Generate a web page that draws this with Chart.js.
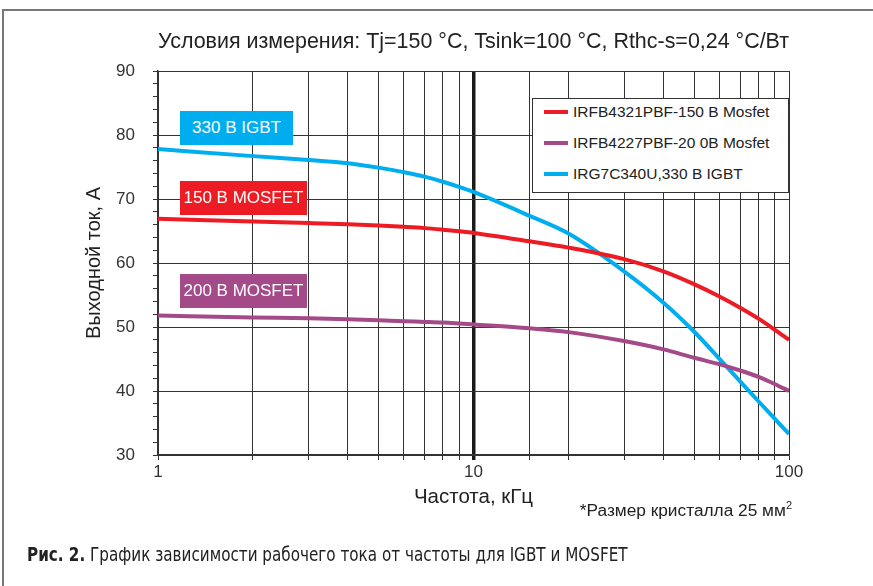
<!DOCTYPE html>
<html>
<head>
<meta charset="utf-8">
<script src="https://cdn.jsdelivr.net/npm/chart.js@4/dist/chart.umd.min.js"></script>
<style>
  body { margin: 0; background: #fff; }
  #wrap { position: relative; width: 873px; height: 586px; font-family: "Liberation Sans", Arial, sans-serif; color: #222; }
  #frame { position: absolute; left: 2px; top: 9px; right: 0; bottom: 0; border-top: 2px solid #777; border-left: 2px solid #777; }
  canvas { position: absolute; left: 0; top: 0; }
  .tag { position: absolute; left: 180px; height: 34px; line-height: 34px; color: #fff; font-size: 17px; text-align: center; }
  #legend { position: absolute; left: 532px; top: 98px; width: 255px; height: 93px; border: 1.5px solid #333; background: #fff; }
  .row { position: absolute; left: 11px; font-size: 15.5px; color: #222; white-space: nowrap; }
  .sw { display: inline-block; width: 24px; height: 4px; vertical-align: middle; margin-right: 5px; position: relative; top: -1px; }
  #note { position: absolute; right: 81px; top: 499px; font-size: 17.3px; color: #222; white-space: nowrap; }
  #cap { position: absolute; left: 27px; top: 542px; font-size: 20px; color: #222; font-family: "Liberation Sans Narrow", "DejaVu Sans Condensed", sans-serif; white-space: nowrap; transform: scaleX(0.845); transform-origin: left center; }
</style>
</head>
<body>
<div id="wrap">
  <div id="frame"></div>
  <canvas id="chart" width="873" height="586"></canvas>
  <div class="tag" style="top:111px;width:113px;background:#00aeef">330 В IGBT</div>
  <div class="tag" style="top:181px;width:127px;background:#ed1c24">150 В MOSFET</div>
  <div class="tag" style="top:274px;width:127px;background:#a54a89">200 В MOSFET</div>
  <div id="legend"></div>
  <div id="note">*Размер кристалла 25 мм<sup style="font-size:11px">2</sup></div>
  <div id="cap"><b>Рис. 2.</b> График зависимости рабочего тока от частоты для IGBT и MOSFET</div>
</div>
<script>
const freq = [1, 2, 3, 4, 5, 6, 7, 8, 9, 10, 15, 20, 30, 40, 50, 60, 70, 80, 90, 100];
const mosfet150 = [66.9, 66.5, 66.25, 66.05, 65.85, 65.65, 65.45, 65.2, 64.95, 64.7, 63.4, 62.4, 60.6, 58.7, 56.7, 54.8, 53.0, 51.3, 49.6, 48.0];
const mosfet200 = [51.8, 51.5, 51.35, 51.2, 51.05, 50.9, 50.8, 50.7, 50.55, 50.4, 49.8, 49.2, 47.8, 46.5, 45.2, 44.2, 43.2, 42.2, 41.1, 40.0];
const igbt330 = [77.8, 76.7, 76.1, 75.6, 74.9, 74.2, 73.5, 72.7, 71.9, 71.1, 67.4, 64.6, 58.7, 53.8, 49.3, 45.1, 41.5, 38.4, 35.7, 33.3];
const seriesNames = ['IRFB4321PBF-150 В Mosfet', 'IRFB4227PBF-20 0В Mosfet', 'IRG7C340U,330 В IGBT'];
const seriesColors = ['#ed1c24', '#a54a89', '#00aeef'];
const xLabels = [1, 10, 100];

const pts = arr => freq.map((f, i) => ({ x: f, y: arr[i] }));

// legend as html
const legend = document.getElementById('legend');
seriesNames.forEach((name, i) => {
  const row = document.createElement('div');
  row.className = 'row';
  row.style.top = (4 + i * 31) + 'px';
  row.innerHTML = '<span class="sw" style="background:' + seriesColors[i] + '"></span>' + name;
  legend.appendChild(row);
});

const tickFont = { family: 'Liberation Sans', size: 17 };

new Chart(document.getElementById('chart'), {
  type: 'line',
  data: {
    datasets: [mosfet150, mosfet200, igbt330].map((arr, i) => ({
      label: seriesNames[i],
      data: pts(arr),
      borderColor: seriesColors[i],
      borderWidth: 4,
      pointRadius: 0,
      cubicInterpolationMode: 'monotone',
      fill: false
    }))
  },
  options: {
    responsive: false,
    animation: false,
    layout: { autoPadding: false, padding: { left: 0, top: 0, right: 84, bottom: 0 } },
    plugins: {
      legend: { display: false },
      tooltip: { enabled: false },
      title: {
        display: true,
        fullSize: false,
        text: 'Условия измерения: Tj=150 °C, Tsink=100 °C, Rthc-s=0,24 °C/Вт',
        color: '#222',
        font: { family: 'Liberation Sans', size: 21.5, weight: 'normal' },
        padding: { top: 29.1, bottom: 16.1 }
      }
    },
    scales: {
      x: {
        type: 'logarithmic',
        min: 1,
        max: 100,
        afterFit: s => { s.height = 131; },
        border: { color: '#333', width: 1.5 },
        grid: {
          color: c => c.tick && c.tick.value === 10 ? '#1a1a1a' : '#333',
          lineWidth: c => c.tick && c.tick.value === 10 ? 3.5 : 1,
          tickLength: 5
        },
        ticks: {
          autoSkip: false,
          maxRotation: 0,
          color: '#333',
          font: tickFont,
          padding: 2,
          callback: v => xLabels.includes(v) ? String(v) : ''
        },
        title: {
          display: true,
          text: 'Частота, кГц',
          color: '#222',
          font: { family: 'Liberation Sans', size: 20.5 },
          padding: { top: 0, bottom: 76.7 }
        }
      },
      y: {
        min: 30,
        max: 90,
        afterFit: s => { s.width = 158; },
        border: { color: '#333', width: 1.5 },
        grid: {
          color: c => c.tick && c.tick.value % 10 === 0 ? '#333' : 'rgba(0,0,0,0)',
          tickColor: '#333',
          tickLength: 5
        },
        ticks: {
          stepSize: 2,
          autoSkip: false,
          color: '#333',
          font: tickFont,
          padding: 18,
          callback: v => v % 10 === 0 ? String(v) : ''
        },
        title: {
          display: true,
          text: 'Выходной ток, А',
          color: '#222',
          font: { family: 'Liberation Sans', size: 20 },
          padding: { top: 82, bottom: 0 }
        }
      }
    }
  }
});
</script>
</body>
</html>
